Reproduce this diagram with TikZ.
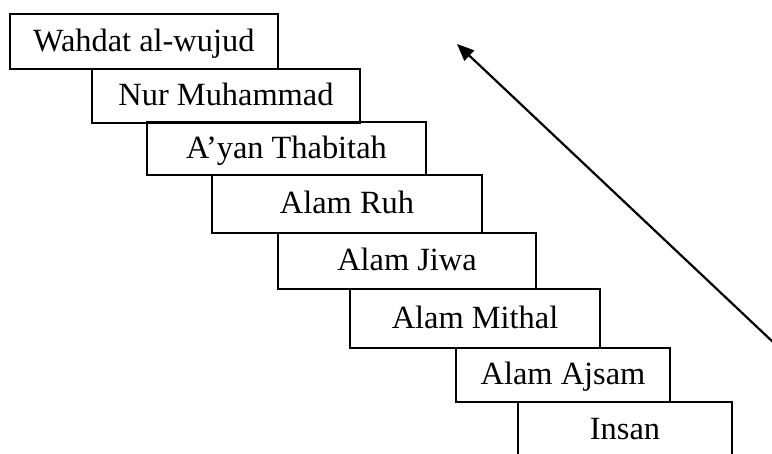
\documentclass[tikz,border=0pt]{standalone}
\usepackage{fontspec}
\setmainfont{Liberation Serif}
\usetikzlibrary{arrows.meta}
\begin{document}
\begin{tikzpicture}[x=1pt,y=-1pt,
  stair/.style={draw=black, line width=2pt, inner sep=0pt,
    font=\fontsize{32.4}{39}\selectfont, text height=20pt, text depth=0pt},
  rise/.style={draw=black, line width=2.2pt, -{Triangle[length=17pt,width=14pt]}}]
\useasboundingbox (0,0) rectangle (772,454);
\clip (0,0) rectangle (772,454);
% each step: left, top, right, bottom edges and its label
\foreach \nm/\l/\t/\r/\b/\txt in {
  s1/9.5/14/278/69/{Wahdat al-wujud},
  s2/92/69/360/123/{Nur Muhammad},
  s3/147/122/426/175/{A’yan Thabitah},
  s4/212/175/482/233/{Alam Ruh},
  s5/278/233/536/289/{Alam Jiwa},
  s6/350/289/600/348/{Alam Mithal},
  s7/456/348/670/402/{Alam Ajsam},
  s8/518/402/732/458/{Insan}}{
  \pgfmathsetmacro\cx{(\l+\r)/2}
  \pgfmathsetmacro\cy{(\t+\b)/2}
  \pgfmathsetmacro\w{\r-\l}
  \pgfmathsetmacro\h{\b-\t}
  \node[stair, minimum width=\w pt, minimum height=\h pt] (\nm) at (\cx,\cy) {\txt};
}
% ascending arrow
\coordinate (base) at (774,343);
\coordinate (top) at (457,44);
\draw[rise] (base) -- (top);
\end{tikzpicture}
\end{document}
